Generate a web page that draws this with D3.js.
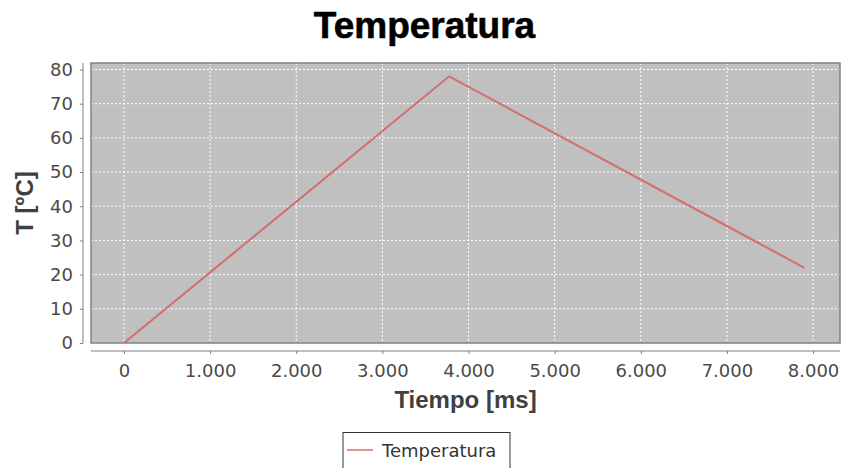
<!DOCTYPE html>
<html><head><meta charset="utf-8">
<script src="https://cdn.jsdelivr.net/npm/d3@7/dist/d3.min.js"></script>
<style>body{margin:0;background:#fff} svg{display:block}</style>
</head><body>
<svg id="c" width="845" height="468"></svg>
<script>
const titleText = "Temperatura";
const seriesName = "Temperatura";
const xLabel = "Tiempo [ms]";
const yLabel = "T [ºC]";
const timeMs = [0, 3775, 7900];
const tempC = [0, 78, 22];
const xTicks = [0, 1000, 2000, 3000, 4000, 5000, 6000, 7000, 8000];
const yTicks = [0, 10, 20, 30, 40, 50, 60, 70, 80];
const xDomain = [-383, 8313];
const yDomain = [0, 81.9];

const svg = d3.select("#c");
const P = {l: 91, r: 840, t: 63, b: 343};
const x = d3.scaleLinear().domain(xDomain).range([P.l, P.r]);
const y = d3.scaleLinear().domain(yDomain).range([P.b, P.t]);
const loc = d3.formatLocale({decimal: ",", thousands: ".", grouping: [3], currency: ["", ""]});
const fmt = loc.format(",d");
const regFont = "'DejaVu Sans', sans-serif";
const boldFont = "'Liberation Sans', Arial, sans-serif";

// Title
svg.append("text").attr("x", 424.5).attr("y", 38)
  .attr("text-anchor", "middle").attr("font-family", boldFont)
  .attr("font-weight", "bold").attr("font-size", 37).attr("fill", "#000")
  .attr("stroke", "#000").attr("stroke-width", 0.6)
  .text(titleText);

// Plot background
svg.append("rect").attr("x", P.l).attr("y", P.t).attr("width", P.r - P.l).attr("height", P.b - P.t)
  .attr("fill", "#c0c0c0");

// Gridlines
const grid = svg.append("g").attr("stroke", "#ffffff").attr("stroke-width", 1).attr("stroke-dasharray", "2,2");
grid.selectAll("line.v").data(xTicks).join("line").attr("class", "v")
  .attr("x1", d => x(d)).attr("x2", d => x(d)).attr("y1", P.t).attr("y2", P.b);
grid.selectAll("line.h").data(yTicks).join("line").attr("class", "h")
  .attr("y1", d => y(d)).attr("y2", d => y(d)).attr("x1", P.l).attr("x2", P.r);

// Plot border
svg.append("rect").attr("x", P.l).attr("y", P.t).attr("width", P.r - P.l).attr("height", P.b - P.t)
  .attr("fill", "none").attr("stroke", "#808080").attr("stroke-width", 1.5);

// Series line
const pts = timeMs.map((t, i) => [t, tempC[i]]);
svg.append("path").datum(pts)
  .attr("d", d3.line().x(d => x(d[0])).y(d => y(d[1])))
  .attr("fill", "none").attr("stroke", "#d66c6c").attr("stroke-width", 2);

// Y axis
const yAxis = svg.append("g").attr("transform", "translate(83,0)")
  .call(d3.axisLeft(y).tickValues(yTicks).tickSize(3).tickPadding(7).tickFormat(fmt));
yAxis.select(".domain").attr("stroke", "#808080").attr("d", `M0,${P.t}V${P.b}`);
yAxis.selectAll(".tick line").attr("stroke", "#808080");
yAxis.selectAll("text").attr("font-family", regFont).attr("font-size", 18).attr("fill", "#4a4a4a");

// X axis
const xAxis = svg.append("g").attr("transform", "translate(0,351)")
  .call(d3.axisBottom(x).tickValues(xTicks).tickSize(3).tickPadding(10).tickFormat(fmt));
xAxis.select(".domain").attr("stroke", "#808080").attr("d", `M${P.l},0H${P.r}`);
xAxis.selectAll(".tick line").attr("stroke", "#808080");
xAxis.selectAll("text").attr("font-family", regFont).attr("font-size", 18).attr("fill", "#4a4a4a");

// Axis labels
svg.append("text").attr("x", (P.l + P.r) / 2).attr("y", 408)
  .attr("text-anchor", "middle").attr("font-family", boldFont).attr("font-weight", "bold")
  .attr("font-size", 24).attr("fill", "#404040").text(xLabel);
svg.append("text").attr("transform", `translate(33,${(P.t + P.b) / 2}) rotate(-90)`)
  .attr("text-anchor", "middle").attr("font-family", boldFont).attr("font-weight", "bold")
  .attr("font-size", 24).attr("fill", "#404040").text(yLabel);

// Legend
const lg = svg.append("g");
lg.append("rect").attr("x", 343).attr("y", 432.5).attr("width", 167).attr("height", 40)
  .attr("fill", "#fff").attr("stroke", "#333").attr("stroke-width", 1);
lg.append("line").attr("x1", 347).attr("x2", 373).attr("y1", 450).attr("y2", 450)
  .attr("stroke", "#d66c6c").attr("stroke-width", 1.5);
lg.append("text").attr("x", 382).attr("y", 457).attr("font-family", regFont)
  .attr("font-size", 18).attr("fill", "#333").text(seriesName);
</script>
</body></html>
